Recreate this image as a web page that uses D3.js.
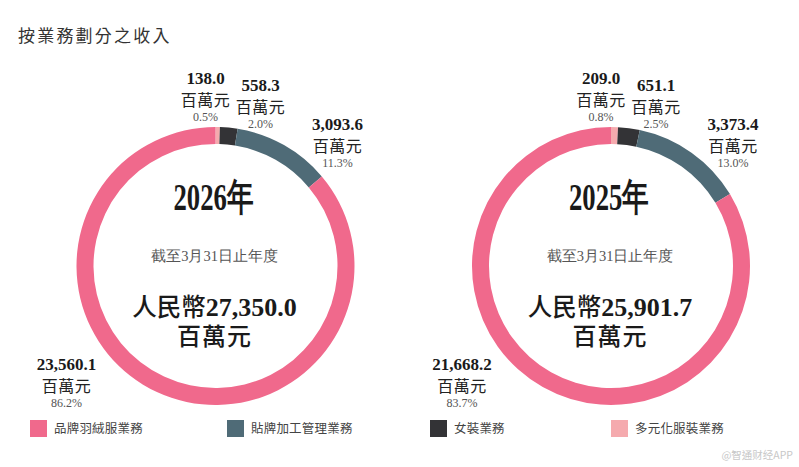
<!DOCTYPE html>
<html>
<head>
<meta charset="utf-8">
<script src="https://cdn.jsdelivr.net/npm/d3@7"></script>
<style>
  html, body { margin: 0; padding: 0; background: #fff; }
  svg { display: block; }
</style>
</head>
<body>
<svg id="chart" width="799" height="467"></svg>
<script>
// ---- data ----
const title = "按業務劃分之收入";
const categories = ["品牌羽絨服業務", "貼牌加工管理業務", "女裝業務", "多元化服裝業務"];
const colors = ["#F0698C", "#4F6B77", "#333336", "#F5AAAE"];
const years = ["2026年", "2025年"];
const totals = ["27,350.0", "25,901.7"];
const values2026 = [23560.1, 3093.6, 558.3, 138.0];
const pct2026 = ["86.2%", "11.3%", "2.0%", "0.5%"];
const values2025 = [21668.2, 3373.4, 651.1, 209.0];
const pct2025 = ["83.7%", "13.0%", "2.5%", "0.8%"];
const unit = "百萬元";
const subtitle = "截至3月31日止年度";
const currency = "人民幣";
const watermark = "@智通财经APP";

// clockwise drawing order from 12 o'clock
const drawOrder = [3, 2, 1, 0];

const svg = d3.select("#chart");
const serif = "'Liberation Serif', 'Times New Roman', serif";
const cjk = "'Noto Sans CJK TC', 'Noto Sans CJK SC', sans-serif";

svg.append("text")
  .attr("x", 18).attr("y", 42)
  .attr("font-family", cjk).attr("font-size", 17)
  .attr("letter-spacing", 2.2)
  .attr("fill", "#333")
  .text(title);

const outerR = 139, innerR = 122;
const centers = [[215.5, 266], [611, 266]];
// label block offsets (layout) per category index
const labelOffsets = [[-149, 104], [122, -136], [45, -175], [-10, -182]];

const fmt = d3.format(",.1f");

function drawDonut(cx, cy, values, pcts, year, total) {
  const g = svg.append("g").attr("transform", `translate(${cx},${cy})`);
  const pie = d3.pie().sort(null).value(i => values[i]);
  const arc = d3.arc().innerRadius(innerR).outerRadius(outerR);
  g.selectAll("path.slice")
    .data(pie(drawOrder))
    .join("path")
    .attr("class", "slice")
    .attr("d", arc)
    .attr("fill", d => colors[d.data]);

  // center texts
  g.append("text")
    .attr("x", -2).attr("y", -56)
    .attr("text-anchor", "middle")
    .attr("font-family", serif).attr("font-weight", "bold")
    .attr("font-size", 38).attr("fill", "#1a1a1a")
    .attr("textLength", 80).attr("lengthAdjust", "spacingAndGlyphs")
    .text(year);

  g.append("text")
    .attr("x", -1).attr("y", -5)
    .attr("text-anchor", "middle")
    .attr("font-family", serif).attr("font-size", 14.5)
    .attr("fill", "#555")
    .text(subtitle);

  const t = g.append("text")
    .attr("x", -1).attr("y", 50)
    .attr("text-anchor", "middle")
    .attr("fill", "#1a1a1a");
  t.append("tspan").attr("font-family", cjk).attr("font-size", 24.5).attr("font-weight", 500).text(currency);
  t.append("tspan").attr("font-family", serif).attr("font-size", 26).attr("font-weight", "bold").text(total);

  g.append("text")
    .attr("x", -1).attr("y", 79)
    .attr("text-anchor", "middle")
    .attr("font-family", cjk).attr("font-size", 24).attr("font-weight", 500)
    .attr("letter-spacing", 1)
    .attr("fill", "#1a1a1a")
    .text(unit);

  // slice labels
  values.forEach((v, i) => {
    const [dx, dy] = labelOffsets[i];
    const lg = g.append("g").attr("transform", `translate(${dx},${dy})`);
    lg.append("text")
      .attr("text-anchor", "middle")
      .attr("font-family", serif).attr("font-weight", "bold")
      .attr("font-size", 17).attr("fill", "#1a1a1a")
      .text(fmt(v));
    lg.append("text")
      .attr("y", 22)
      .attr("text-anchor", "middle")
      .attr("font-family", cjk).attr("font-size", 16)
      .attr("letter-spacing", 0.5)
      .attr("fill", "#222")
      .text(unit);
    lg.append("text")
      .attr("y", 37)
      .attr("text-anchor", "middle")
      .attr("font-family", serif).attr("font-size", 12)
      .attr("fill", "#555")
      .text(pcts[i]);
  });
}

drawDonut(centers[0][0], centers[0][1], values2026, pct2026, years[0], totals[0]);
drawDonut(centers[1][0], centers[1][1], values2025, pct2025, years[1], totals[1]);

// legend
const legendX = [30, 227, 430, 611];
const legend = svg.append("g");
categories.forEach((c, i) => {
  legend.append("rect")
    .attr("x", legendX[i]).attr("y", 420)
    .attr("width", 17).attr("height", 17)
    .attr("fill", colors[i]);
  legend.append("text")
    .attr("x", legendX[i] + 24).attr("y", 433)
    .attr("font-family", cjk).attr("font-size", 12.5)
    .attr("letter-spacing", 0.2)
    .attr("fill", "#444")
    .text(c);
});

svg.append("text")
  .attr("x", 793).attr("y", 459)
  .attr("text-anchor", "end")
  .attr("font-family", cjk).attr("font-size", 10.5)
  .attr("fill", "#c8c8c8")
  .text(watermark);
</script>
</body>
</html>
